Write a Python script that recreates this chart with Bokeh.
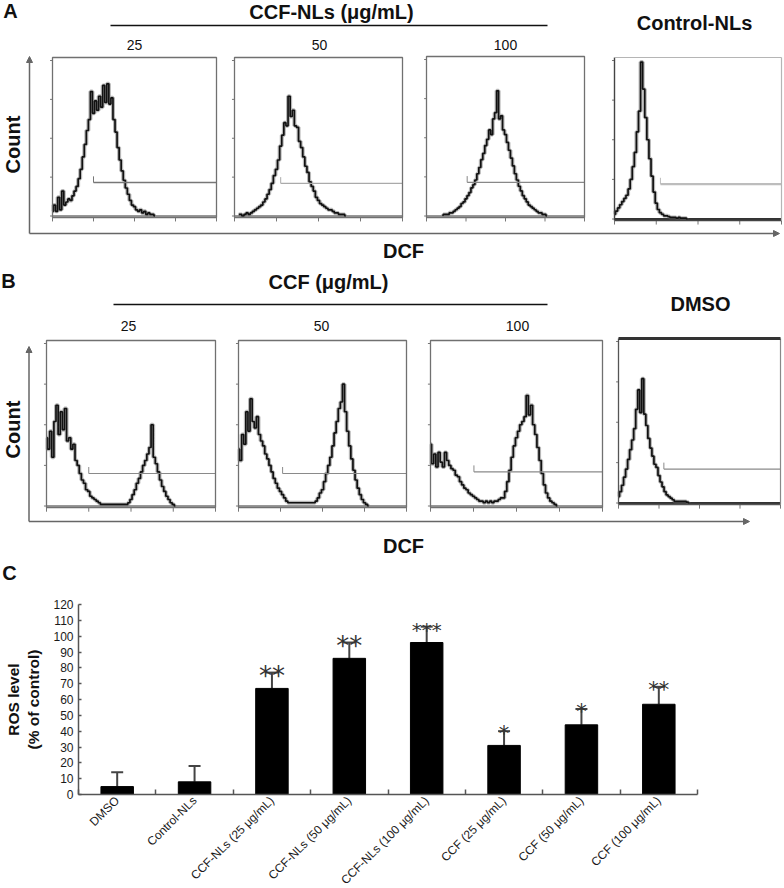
import numpy as np
from math import pi
from bokeh.plotting import figure
from bokeh.models import (Range1d, Arrow, NormalHead, FixedTicker, Whisker, TeeHead,
                          ColumnDataSource, LinearAxis)
from bokeh.core.properties import value
from bokeh.embed import file_html
from bokeh.resources import INLINE

# ---------------------------------------------------------------- data
doses = ["25", "50", "100"]
decades = [0, 1, 2, 3, 4]            # log10 DCF fluorescence (10^0 .. 10^4)
count_ticks = [0, 25, 50, 75, 100]   # % of histogram full scale
hist_bin = 0.05                      # bin width in decades

# A: CCF-NLs 25 / 50 / 100 and Control-NLs
a1_start = 0.0
a1_counts = [3, 7, 3, 12, 4, 16, 7, 9, 11, 10, 13, 16, 19, 24, 30, 38, 46, 55, 62, 80,
             66, 74, 68, 77, 70, 84, 73, 85, 72, 76, 62, 54, 44, 36, 29, 23, 18, 14, 10, 7,
             6, 4, 3, 4, 2, 3, 1, 2, 1, 1, 0]
a2_start = 0.10
a2_counts = [1, 1, 0, 1, 2, 1, 2, 3, 4, 5, 6, 7, 9, 11, 14, 17, 21, 26, 30, 36,
             45, 52, 60, 58, 77, 64, 68, 58, 57, 48, 44, 38, 32, 28, 22, 19, 16, 12, 10, 8,
             7, 6, 5, 4, 4, 3, 2, 2, 1, 1, 1, 0]
a3_start = 0.40
a3_counts = [0.5, 1, 1, 1, 2, 2, 3, 4, 5, 6, 8, 9, 11, 13, 15, 18, 20, 23, 27, 31,
             36, 40, 45, 49, 55, 52, 62, 66, 80, 62, 64, 55, 52, 47, 42, 37, 32, 27, 23, 19,
             16, 13, 11, 9, 7, 6, 5, 4, 3, 2, 2, 1, 1, 0]
a4_start = 0.0
a4_counts = [3, 5, 7, 9, 11, 13, 15, 19, 25, 33, 42, 55, 68, 99, 82, 64, 50, 38, 27, 17,
             10, 6, 4, 3, 2, 2, 1.5, 1, 1, 1, 0.5, 1, 0.5, 0.5, 0.5, 0]

# B: CCF 25 / 50 / 100 and DMSO
b1_start = 0.0
b1_counts = [42, 35, 46, 30, 52, 62, 44, 58, 47, 60, 40, 42, 35, 38, 28, 25, 20, 16, 14, 10,
             9, 6, 5, 4, 3, 2, 1, 1, 1, 1, 1, 1, 1, 1, 1, 1, 1, 1, 1, 2,
             4, 7, 10, 14, 17, 21, 25, 28, 32, 36, 50, 30, 26, 21, 16, 12, 9, 6, 4, 2, 1, 0]
b2_start = 0.0
b2_counts = [35, 28, 44, 38, 58, 46, 66, 52, 48, 55, 44, 40, 37, 32, 29, 25, 21, 17, 14, 11,
             9, 7, 5, 3, 2, 2, 2, 2, 2, 2, 2, 2, 2, 2, 2, 2, 2, 3, 5, 8,
             10, 15, 20, 25, 30, 37, 45, 52, 60, 64, 75, 58, 46, 37, 29, 22, 16, 11, 7, 4,
             2, 1, 0]
b3_start = 0.0
b3_counts = [38, 26, 32, 24, 33, 27, 24, 33, 28, 25, 23, 22, 19, 18, 15, 13, 11, 10, 8, 7,
             6, 5, 4, 3, 3, 2, 3, 2, 3, 2, 3, 3, 4, 5, 5, 9, 15, 22, 30, 37,
             42, 46, 50, 52, 55, 68, 56, 62, 50, 44, 36, 28, 20, 13, 8, 5, 3, 2, 1, 0]
b4_start = 0.0
b4_counts = [4, 7, 11, 16, 21, 27, 33, 39, 46, 58, 70, 56, 77, 55, 48, 40, 34, 29, 24, 22,
             17, 13, 10, 7, 5, 4, 3, 2, 1, 1, 1, 1, 1, 1, 0.5, 0]

a_gate_start = [1.0, 1.1, 1.03, 1.1]
a_gate_level = [21.5, 21, 21.5, 22]
b_gate_start = [1.0, 1.05, 1.01, 1.12]
b_gate_level = [20, 20, 21, 21]

# C: ROS level bar chart
categories = ["DMSO", "Control-NLs", "CCF-NLs (25 μg/mL)", "CCF-NLs (50 μg/mL)",
              "CCF-NLs (100 μg/mL)", "CCF (25 μg/mL)", "CCF (50 μg/mL)", "CCF (100 μg/mL)"]
ros_mean = [5, 8, 67, 86, 96, 31, 44, 57]
ros_upper = [14, 18, 77, 96, 106, 40, 54, 68]
ros_sig = ["", "", "**", "**", "***", "*", "*", "**"]
y_ticks = [0, 10, 20, 30, 40, 50, 60, 70, 80, 90, 100, 110, 120]
y_max = 120

# ---------------------------------------------------------------- layout / style
FONT = "Liberation Sans"
W, H = 784, 886
X0, Y0 = 0, 0                      # canvas origin in screenshot pixels

A_box = [(52, 216, 57, 217), (234, 402, 57, 217), (426, 584, 56, 217), (614, 781, 57, 220)]
B_box = [(46, 215, 340, 507), (238, 406, 340, 507), (430, 602, 340, 507), (618, 780, 338, 504)]

# panel C plot area (screenshot pixels)
C_left, C_right, C_zero, C_top = 78, 697, 794, 604

p = figure(width=W, height=H, x_range=Range1d(X0, X0 + W), y_range=Range1d(Y0 + H, Y0),
           x_axis_type=None, y_axis_type=None, toolbar_location=None, output_backend="svg",
           min_border=0, outline_line_color=None, background_fill_color="white",
           border_fill_color="white")

ncat = len(categories)
kx = (C_right - C_left) / ncat
ky = (C_zero - C_top) / y_max
p.extra_x_ranges = {"cat": Range1d((X0 - C_left) / kx, (X0 + W - C_left) / kx)}
p.extra_y_ranges = {"ros": Range1d((C_zero - (Y0 + H)) / ky, (C_zero - Y0) / ky)}


def txt(x, y, s, size, bold=True, angle=0, align="center"):
    p.text(x=[x], y=[y], text=[s], angle=angle, text_font=value(FONT),
           text_font_size=value(size), text_font_style="bold" if bold else "normal",
           text_align=align, text_baseline="middle", text_color="#111111")


def hist_panel(box, start, counts, gate_x, gate_y, gate_color, gate_w, frame="full", base_w=1.2):
    l, r, t, b = box
    sub = p.subplot(x_source=Range1d(0, 4), y_source=Range1d(0, 100),
                    x_target=Range1d(l, r), y_target=Range1d(b - 1.5, t + 3))
    xs = start + hist_bin * np.arange(len(counts))
    sub.segment(x0=[0], y0=[0], x1=[4], y1=[0], line_color="#333333", line_width=base_w)
    sub.step(x=xs, y=counts, mode="center", line_color="#6f6f6f", line_width=4.0, line_alpha=0.5)
    sub.step(x=xs, y=counts, mode="center", line_color="#111111", line_width=1.7)
    sub.segment(x0=[gate_x], y0=[gate_y], x1=[4], y1=[gate_y], line_color=gate_color, line_width=gate_w)
    sub.segment(x0=[gate_x], y0=[gate_y], x1=[gate_x], y1=[gate_y + 4], line_color=gate_color, line_width=1)
    n = len(decades)
    sub.segment(x0=decades, y0=[-1] * n, x1=decades, y1=[-3.5] * n, line_color="#777777", line_width=1)
    m = len(count_ticks)
    sub.segment(x0=[0] * m, y0=count_ticks, x1=[-0.06] * m, y1=count_ticks, line_color="#777777", line_width=1)
    if frame == "full":
        p.quad(left=[l], right=[r], top=[t], bottom=[b], fill_color=None, line_color="#707070", line_width=1.3)
    elif frame == "control":
        p.segment(x0=[l, l], y0=[t, b], x1=[l, r], y1=[b, b], line_color="#444444", line_width=1.4)
        p.segment(x0=[l, r], y0=[t, t], x1=[r, r], y1=[t, b], line_color="#b5b5b5", line_width=1.2)
    elif frame == "dmso":
        p.segment(x0=[l, l], y0=[t, b], x1=[l, r], y1=[b, b], line_color="#555555", line_width=1.3)
        p.segment(x0=[r], y0=[t], x1=[r], y1=[b], line_color="#888888", line_width=1.2)
        p.segment(x0=[l], y0=[t], x1=[r], y1=[t], line_color="#333333", line_width=3)


a_data = [(a1_start, a1_counts), (a2_start, a2_counts), (a3_start, a3_counts), (a4_start, a4_counts)]
b_data = [(b1_start, b1_counts), (b2_start, b2_counts), (b3_start, b3_counts), (b4_start, b4_counts)]
a_gate_col = ["#777777", "#aaaaaa", "#888888", "#bdbdbd"]
a_gate_w = [1.4, 1.3, 1.3, 2.4]
for i in range(4):
    hist_panel(A_box[i], a_data[i][0], a_data[i][1], a_gate_start[i], a_gate_level[i],
               a_gate_col[i], a_gate_w[i], frame="control" if i == 3 else "full",
               base_w=2.0 if i == 3 else 1.2)
    hist_panel(B_box[i], b_data[i][0], b_data[i][1], b_gate_start[i], b_gate_level[i],
               "#8a8a8a", 1.1, frame="dmso" if i == 3 else "full",
               base_w=2.0 if i == 3 else 1.2)

for (x0, y0, x1, y1) in [(29, 233, 29, 56), (29, 233, 779, 233), (28.5, 521, 28.5, 346), (28.5, 521, 749, 521)]:
    p.add_layout(Arrow(x_start=x0, y_start=y0, x_end=x1, y_end=y1, line_color="#666666", line_width=1.5,
                       end=NormalHead(size=6, fill_color="#666666", line_color="#666666")))

# headings (panel A)
txt(10, 10, "A", "20px")
txt(331, 11.5, "CCF-NLs (μg/mL)", "20px")
p.segment(x0=[110], y0=[25], x1=[547], y1=[25], line_color="#111111", line_width=1.5)
for xc, d in zip([134, 319, 505], doses):
    txt(xc, 44, d, "14px", bold=False)
txt(694, 22.5, "Control-NLs", "20px")
txt(12, 144, "Count", "20px", angle=pi / 2)
txt(403, 250, "DCF", "20px")

# headings (panel B)
txt(8, 280, "B", "20px")
txt(328, 281.5, "CCF (μg/mL)", "20px")
p.segment(x0=[113], y0=[304], x1=[547], y1=[304], line_color="#111111", line_width=1.5)
for xc, d in zip([128, 321, 517], doses):
    txt(xc, 325, d, "14px", bold=False)
txt(700, 303, "DMSO", "20px")
txt(12, 429, "Count", "20px", angle=pi / 2)
txt(403, 545, "DCF", "20px")
txt(9, 572, "C", "20px")

# ---------------------------------------------------------------- panel C
centers = [i + 0.5 for i in range(ncat)]
bounds = list(range(ncat + 1))
star_px = ["26px", "26px", "26px", "26px", "20px", "21px", "21px", "21px"]
src = ColumnDataSource(dict(x=centers, mean=ros_mean, upper=ros_upper, sig=ros_sig, star_px=star_px))

p.vbar(x="x", top="mean", width=0.42, source=src, fill_color="black", line_color="black",
       x_range_name="cat", y_range_name="ros")
p.add_layout(Whisker(source=src, base="x", upper="upper", lower="mean", line_color="#444444", line_width=2,
                     upper_head=TeeHead(size=12, line_color="#444444", line_width=2), lower_head=None,
                     x_range_name="cat", y_range_name="ros"))
p.text(x="x", y="upper", text="sig", source=src, text_font=value("DejaVu Sans"), text_font_size="star_px",
       text_align="center", text_baseline="alphabetic", y_offset=3, text_color="#333333",
       x_range_name="cat", y_range_name="ros")

xa = LinearAxis(x_range_name="cat", y_range_name="ros", fixed_location=0, bounds=(0, ncat),
                ticker=FixedTicker(ticks=centers, minor_ticks=bounds))
xa.major_label_overrides = {c: n for c, n in zip(centers, categories)}
xa.major_label_orientation = pi / 4
xa.major_tick_in = 0
xa.major_tick_out = 0
xa.minor_tick_in = 5
xa.minor_tick_out = 0
xa.minor_tick_line_color = "#555555"
xa.minor_tick_line_width = 1.5
xa.axis_line_color = "#555555"
xa.axis_line_width = 1.5
xa.major_label_text_font = FONT
xa.major_label_text_font_size = "12px"
xa.major_label_text_color = "#1a1a1a"
xa.major_label_standoff = 4
p.add_layout(xa, "below")

ya = LinearAxis(x_range_name="cat", y_range_name="ros", fixed_location=0, bounds=(0, y_max),
                ticker=FixedTicker(ticks=y_ticks))
ya.major_tick_in = 3
ya.major_tick_out = 0
ya.major_tick_line_color = "#555555"
ya.major_tick_line_width = 1.5
ya.minor_tick_line_color = None
ya.axis_line_color = "#555555"
ya.axis_line_width = 1.5
ya.major_label_text_font = FONT
ya.major_label_text_font_size = "12px"
ya.major_label_text_color = "#1a1a1a"
ya.major_label_standoff = 5
ya.axis_label = "ROS level\n(% of control)"
ya.axis_label_text_font = FONT
ya.axis_label_text_font_style = "bold"
ya.axis_label_text_font_size = "15.5px"
ya.axis_label_text_color = "#111111"
ya.axis_label_standoff = 8
p.add_layout(ya, "left")

open("out.html", "w").write(file_html(p, INLINE))
